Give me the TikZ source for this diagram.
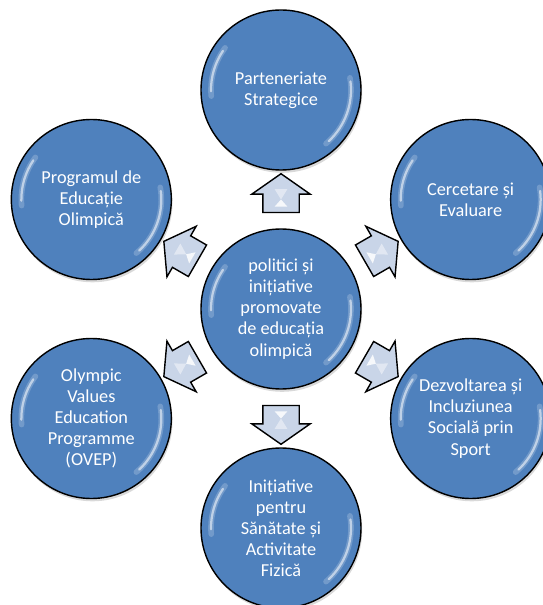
\documentclass[tikz,border=0pt]{standalone}
\usepackage{fontspec}
\setmainfont{Carlito}
\usetikzlibrary{shapes.arrows, shadows, calc}
\definecolor{azul}{HTML}{4F81BD}
\definecolor{seta}{HTML}{C9D5E8}

\begin{document}
\begin{tikzpicture}[
    bubble/.style={circle, draw=black, line width=1pt, fill=azul, minimum size=4cm,
      inner sep=0pt, text=white, align=center, font=\fontsize{13}{15}\selectfont,
      drop shadow={opacity=0.3, shadow xshift=0.03cm, shadow yshift=-0.07cm},
      path picture={
        \draw[white, opacity=0.2, line width=4pt, line cap=round]
          ($(path picture bounding box.center)+(143:1.75)$) arc[start angle=143, end angle=185, radius=1.75];
        \draw[white, opacity=0.55, line width=1.6pt, line cap=round]
          ($(path picture bounding box.center)+(146:1.75)$) arc[start angle=146, end angle=181, radius=1.75];
        \draw[white, opacity=0.2, line width=4pt, line cap=round]
          ($(path picture bounding box.center)+(10:1.75)$) arc[start angle=10, end angle=-50, radius=1.75];
        \draw[white, opacity=0.55, line width=1.6pt, line cap=round]
          ($(path picture bounding box.center)+(7:1.75)$) arc[start angle=7, end angle=-47, radius=1.75];
      }},
    blockarrow/.style={single arrow, draw=black, line width=1pt, fill=seta,
      inner xsep=0pt, inner ysep=0.4375cm, minimum height=0.97cm,
      single arrow head extend=0.275cm, single arrow tip angle=110}
  ]
  \useasboundingbox (-7.025,-7.4) rectangle (6.55,7.725);

  % circulo central
  \node[bubble] (pol) at (0,0) {politici și\\inițiative\\promovate\\de educația\\olimpică};

  % circulos de fora e setas
  \foreach \ang/\nm/\txt in {
      90/parc/{Parteneriate\\Strategice},
      30/cerc/{Cercetare și\\Evaluare},
      -30/dezv/{Dezvoltarea și\\Incluziunea\\Socială prin\\Sport},
      -90/init/{Inițiative\\pentru\\Sănătate și\\Activitate\\Fizică},
      -150/ovep/{Olympic\\Values\\Education\\Programme\\(OVEP)},
      150/prog/{Programul de\\Educație\\Olimpică}} {
    \node[bubble] (\nm) at (\ang:5.475) {\txt};
    \node[blockarrow, rotate=\ang] (a\nm) at ($(pol)!0.5!(\nm)$) {};
    \fill[white, opacity=0.85, shift={(a\nm.center)}, rotate=\ang]
      (0,0) -- (-0.18,-0.16) -- (-0.18,0.16) -- cycle;
    \fill[white, opacity=0.45, shift={(a\nm.center)}, rotate=\ang]
      (0,0) -- (0.26,-0.16) -- (0.26,0.16) -- cycle;
  }
\end{tikzpicture}
\end{document}
